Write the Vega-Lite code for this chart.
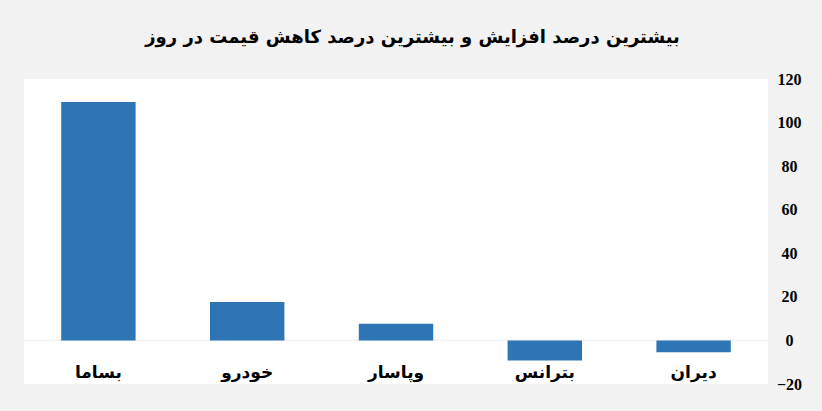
{
  "$schema": "https://vega.github.io/schema/vega-lite/v6.json",
  "description": "Largest daily price increase and decrease percentages.",
  "autosize": {"type": "none"},
  "width": 744,
  "height": 305,
  "padding": {"left": 24, "top": 79, "right": 54, "bottom": 27},
  "background": "#f2f2f2",
  "title": {
    "text": "بیشترین درصد افزایش و بیشترین درصد کاهش قیمت در روز",
    "font": "DejaVu Sans",
    "fontSize": 18,
    "fontWeight": "bold",
    "color": "#000000",
    "anchor": "middle",
    "frame": "bounds",
    "offset": 24
  },
  "data": {
    "values": [
      {"symbol": "بساما", "change": 109.5},
      {"symbol": "خودرو", "change": 17.6},
      {"symbol": "وپاسار", "change": 7.6},
      {"symbol": "بترانس", "change": -9.2},
      {"symbol": "دیران", "change": -5.4}
    ]
  },
  "layer": [
    {
      "mark": {"type": "rule", "color": "#efefef", "strokeWidth": 1},
      "encoding": {"y": {"datum": 0, "type": "quantitative"}}
    },
    {
      "mark": {"type": "bar", "color": "#2e75b6"},
      "encoding": {
        "x": {
          "field": "symbol",
          "type": "nominal",
          "sort": null,
          "scale": {"paddingInner": 0.5, "paddingOuter": 0.25},
          "axis": {
            "title": null,
            "domain": false,
            "ticks": false,
            "labelAngle": 0,
            "labelBaseline": "middle",
            "labelPadding": -12,
            "labelFont": "DejaVu Sans",
            "labelFontSize": 17,
            "labelFontWeight": "bold",
            "labelColor": "#000000"
          }
        },
        "y": {
          "field": "change",
          "type": "quantitative",
          "scale": {"domain": [-20, 120], "nice": false},
          "axis": {
            "orient": "right",
            "title": null,
            "values": [-20, 0, 20, 40, 60, 80, 100, 120],
            "grid": false,
            "domain": false,
            "ticks": false,
            "labelAlign": "center",
            "labelPadding": 21,
            "labelFont": "Liberation Sans Narrow",
            "labelFontSize": 16,
            "labelFontWeight": "bold",
            "labelColor": "#000000"
          }
        }
      }
    }
  ],
  "config": {
    "view": {"fill": "#ffffff", "stroke": null}
  }
}
